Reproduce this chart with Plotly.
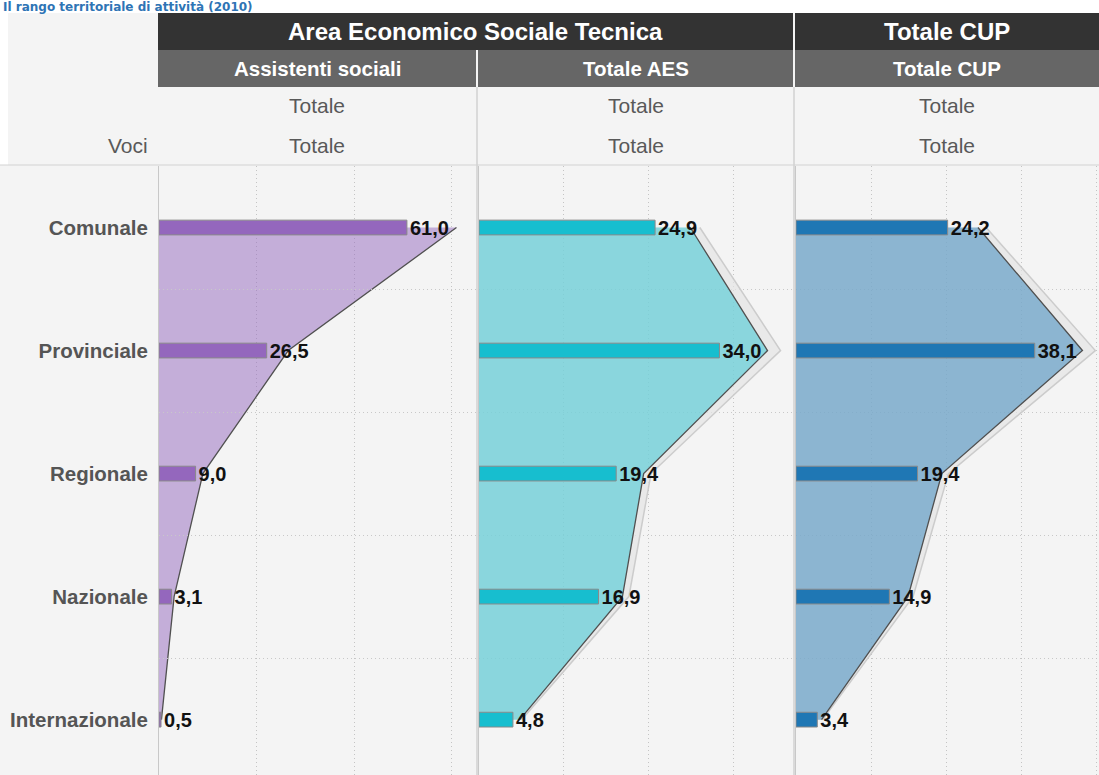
import plotly.graph_objects as go

W, H = 1099, 775

# ── Data ──────────────────────────────────────────────────────────────────────
TITLE = 'Il rango territoriale di attività (2010)'
CATEGORIES = ['Comunale', 'Provinciale', 'Regionale', 'Nazionale', 'Internazionale']
ASSISTENTI_SOCIALI = [61.0, 26.5, 9.0, 3.1, 0.5]
TOTALE_AES = [24.9, 34.0, 19.4, 16.9, 4.8]
TOTALE_CUP = [24.2, 38.1, 19.4, 14.9, 3.4]

GROUP_LABELS = ['Area Economico Sociale Tecnica', 'Totale CUP']
SERIES_LABELS = ['Assistenti sociali', 'Totale AES', 'Totale CUP']
SUB_LABEL = 'Totale'
ROW_HEADER = 'Voci'

# ── Styling ───────────────────────────────────────────────────────────────────
FONT = 'Liberation Sans'
BG = '#f4f4f4'
PLOT_TOP = 166          # px from top where the panels start
BAR_RATIO = 1.2         # bar axis is 1.2x wider than the area axis (dual axis)
SHADOW_SCALE = 1.045
DOTS = '1px,3px'

PANELS = [
    dict(values=ASSISTENTI_SOCIALI, x0=159, x1=476, area_max=65, dtick=20,
         bar='#9467bd', fill='rgba(148,103,189,0.5)', shadow=False),
    dict(values=TOTALE_AES, x0=479, x1=793, area_max=37, dtick=10,
         bar='#17becf', fill='rgba(23,190,207,0.45)', shadow=True),
    dict(values=TOTALE_CUP, x0=796, x1=1099, area_max=40.3, dtick=10,
         bar='#1f77b4', fill='rgba(31,119,180,0.46)', shadow=True),
]


def px(x):
    return x / W


def py(y):
    return 1 - y / H


def xname(n):
    return 'xaxis' if n == 1 else f'xaxis{n}'


def xref(n):
    return 'x' if n == 1 else f'x{n}'


def yref(n):
    return 'y' if n == 1 else f'y{n}'


def fmt(v):
    return f'{v:.1f}'.replace('.', ',')


ypos = list(range(len(CATEGORIES)))
y_range = [len(CATEGORIES) - 0.55, -0.5]

fig = go.Figure()
layout_axes = {}

for k, p in enumerate(PANELS):
    base, area, bars = 3 * k + 1, 3 * k + 2, 3 * k + 3
    yid = k + 1
    dom = [px(p['x0']), px(p['x1'])]

    if p['shadow']:
        fig.add_trace(go.Scatter(
            x=p['values'], y=ypos, xaxis=xref(base), yaxis=yref(yid),
            mode='lines', fill='tozerox', fillcolor='rgba(228,228,228,0.7)',
            line=dict(color='rgba(200,200,200,0.9)', width=1.5),
            hoverinfo='skip', showlegend=False,
        ))

    fig.add_trace(go.Scatter(
        x=p['values'], y=ypos, xaxis=xref(area), yaxis=yref(yid),
        mode='lines', fill='tozerox', fillcolor=p['fill'],
        line=dict(color='#505050', width=1.3),
        hoverinfo='skip', showlegend=False,
    ))

    fig.add_trace(go.Bar(
        x=p['values'], y=ypos, orientation='h', width=0.12,
        xaxis=xref(bars), yaxis=yref(yid),
        marker=dict(color=p['bar'], line=dict(color='#8a8a8a', width=1)),
        text=[fmt(v) for v in p['values']], textposition='outside',
        textfont=dict(family=FONT, size=20, color='#111111', weight='bold'),
        cliponaxis=False, constraintext='none',
        hoverinfo='skip', showlegend=False,
    ))

    layout_axes[xname(base)] = dict(
        domain=dom, anchor=yref(yid), range=[0, p['area_max'] / SHADOW_SCALE],
        visible=False, fixedrange=True,
    )
    layout_axes[xname(area)] = dict(
        domain=dom, anchor=yref(yid), overlaying=xref(base),
        range=[0, p['area_max']], tick0=0, dtick=p['dtick'],
        showgrid=True, gridcolor='#c4c4c4', griddash=DOTS, gridwidth=1,
        showticklabels=False, ticks='', zeroline=False, showline=False,
    )
    layout_axes[xname(bars)] = dict(
        domain=dom, anchor=yref(yid), overlaying=xref(base),
        range=[0, p['area_max'] * BAR_RATIO], visible=False,
    )
    layout_axes['yaxis' if yid == 1 else f'yaxis{yid}'] = dict(
        domain=[0, py(PLOT_TOP)], anchor=xref(base), range=y_range,
        tickmode='array', tickvals=ypos, ticktext=CATEGORIES,
        showticklabels=(k == 0), ticks='', ticklabelstandoff=6,
        tickfont=dict(family=FONT, size=20.5, color='#555555', weight='bold'),
        showgrid=False, zeroline=False,
        showline=True, linecolor='#c8c8c8', linewidth=1,
        minor=dict(tickmode='linear', tick0=0.5, dtick=1, showgrid=True,
                   gridcolor='#c8c8c8', griddash=DOTS, gridwidth=1),
    )

# ── Header table ──────────────────────────────────────────────────────────────
shapes = [
    dict(type='rect', xref='paper', yref='paper', x0=0, x1=1, y0=py(13), y1=1,
         fillcolor='white', line_width=0, layer='below'),
    dict(type='rect', xref='paper', yref='paper', x0=0, x1=px(8), y0=py(165), y1=py(13),
         fillcolor='white', line_width=0, layer='below'),
]
group_spans = [(158, 793), (795, 1099)]
series_spans = [(158, 476), (478, 793), (795, 1099)]
for x0, x1 in group_spans:
    shapes.append(dict(type='rect', xref='paper', yref='paper',
                       x0=px(x0), x1=px(x1), y0=py(50), y1=py(13),
                       fillcolor='#333333', line_width=0))
for x0, x1 in series_spans:
    shapes.append(dict(type='rect', xref='paper', yref='paper',
                       x0=px(x0), x1=px(x1), y0=py(87), y1=py(50),
                       fillcolor='#666666', line_width=0))
for xs in (477, 794):
    shapes.append(dict(type='line', xref='paper', yref='paper',
                       x0=px(xs), x1=px(xs), y0=0, y1=py(87),
                       line=dict(color='#dadada', width=2)))
shapes.append(dict(type='line', xref='paper', yref='paper',
                   x0=0, x1=1, y0=py(165), y1=py(165),
                   line=dict(color='#d2d2d2', width=1)))

annotations = [dict(
    text=TITLE, xref='paper', yref='paper', x=px(1), y=py(7),
    xanchor='left', yanchor='middle', showarrow=False,
    font=dict(family='DejaVu Sans', size=12, color='#2E74B5', weight='bold'),
)]
for label, (x0, x1) in zip(GROUP_LABELS, group_spans):
    annotations.append(dict(
        text=label, xref='paper', yref='paper', x=px((x0 + x1) / 2), y=py(32),
        xanchor='center', yanchor='middle', showarrow=False,
        font=dict(family=FONT, size=24, color='white', weight='bold'),
    ))
for label, (x0, x1) in zip(SERIES_LABELS, series_spans):
    cx = px((x0 + x1) / 2)
    annotations.append(dict(
        text=label, xref='paper', yref='paper', x=cx, y=py(68),
        xanchor='center', yanchor='middle', showarrow=False,
        font=dict(family=FONT, size=20.5, color='white', weight='bold'),
    ))
    for ty in (106, 145):
        annotations.append(dict(
            text=SUB_LABEL, xref='paper', yref='paper', x=cx, y=py(ty),
            xanchor='center', yanchor='middle', showarrow=False,
            font=dict(family=FONT, size=21, color='#595959'),
        ))
annotations.append(dict(
    text=ROW_HEADER, xref='paper', yref='paper', x=px(150), y=py(145),
    xanchor='right', yanchor='middle', showarrow=False,
    font=dict(family=FONT, size=21, color='#595959'),
))

fig.update_layout(
    width=W, height=H, autosize=False,
    margin=dict(l=0, r=0, t=0, b=0, pad=0),
    paper_bgcolor=BG, plot_bgcolor='rgba(0,0,0,0)',
    showlegend=False, barmode='overlay',
    shapes=shapes, annotations=annotations,
    **layout_axes,
)

# the page's default 8px body margin would push the whole figure off its frame
fig.write_html('out.html', config={'displayModeBar': False},
               post_script="document.body.style.margin = '0px';")
